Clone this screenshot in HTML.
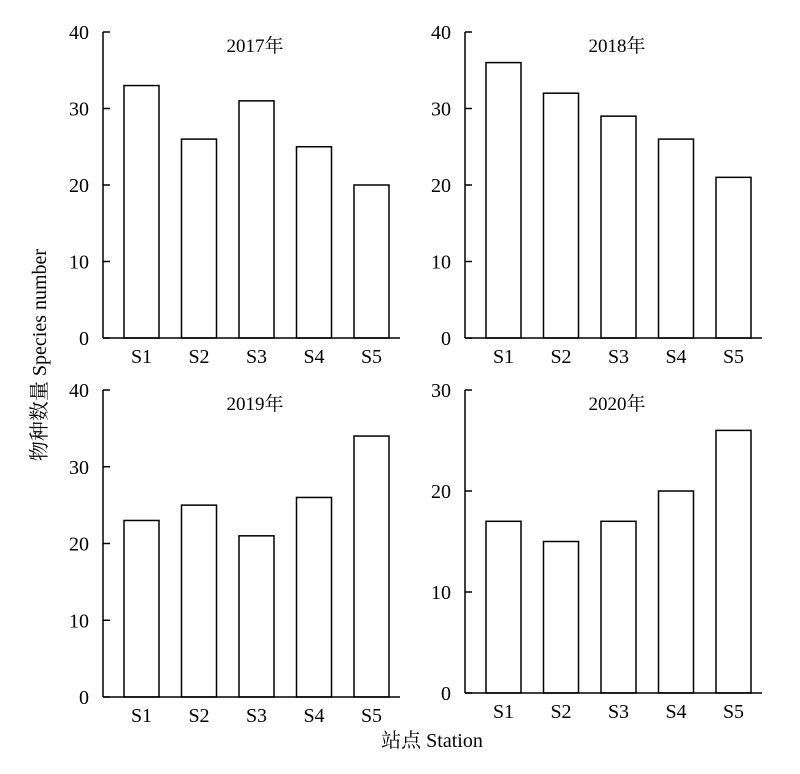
<!DOCTYPE html>
<html><head><meta charset="utf-8"><style>
html,body{margin:0;padding:0;background:#fff}
svg text{font-family:"Liberation Serif","Noto Serif CJK SC",serif;fill:#000}
</style></head><body>
<svg id="c" width="800" height="769" viewBox="0 0 800 769" xmlns="http://www.w3.org/2000/svg">
<text x="46" y="355" font-size="20" text-anchor="middle" transform="rotate(-90 46 355)">物种数量 Species number</text>
<text x="432" y="747" font-size="20" text-anchor="middle">站点 Station</text>
</svg>
<script>
const categories = ["S1","S2","S3","S4","S5"];
const years = ["2017年","2018年","2019年","2020年"];
const values2017 = [33,26,31,25,20];
const values2018 = [36,32,29,26,21];
const values2019 = [23,25,21,26,34];
const values2020 = [17,15,17,20,26];
const ticksA = [0,10,20,30,40];
const ticksB = [0,10,20,30];
const series = [values2017, values2018, values2019, values2020];
const tickSets = [ticksA, ticksA, ticksA, ticksB];

const svg = document.getElementById('c');
const NS = 'http://www.w3.org/2000/svg';
const panels = [
  {ax:103, y0:338, yTop:32},
  {ax:465, y0:338, yTop:32},
  {ax:103, y0:697, yTop:390},
  {ax:465, y0:693, yTop:390}
];
function mk(t, a){const e=document.createElementNS(NS,t);for(const k in a)e.setAttribute(k,a[k]);svg.appendChild(e);return e;}
panels.forEach((p,pi)=>{
  const ticks = tickSets[pi];
  const maxV = ticks[ticks.length-1];
  const yS = v => p.y0 - (v/maxV)*(p.y0-p.yTop);
  const xS = i => p.ax + 38.5 + i*57.5;
  const vals = series[pi];
  vals.forEach((v,i)=>{
    const r = mk('rect',{x:xS(i)-17.5,y:yS(v),width:35,height:p.y0-yS(v),fill:'#fff',stroke:'#000','stroke-width':1.5});
    
    
    const t = mk('text',{x:xS(i),y:p.y0+25,'font-size':20,'text-anchor':'middle'});
    t.textContent = categories[i];
    
    
  });
  const ya = mk('line',{x1:p.ax,y1:p.yTop,x2:p.ax,y2:p.y0,stroke:'#000','stroke-width':1.5});
  
  
  const xa = mk('line',{x1:p.ax,y1:p.y0,x2:p.ax+297,y2:p.y0,stroke:'#000','stroke-width':1.5});
  
  
  ticks.forEach(v=>{
    const l = mk('line',{x1:p.ax,y1:yS(v),x2:p.ax+7,y2:yS(v),stroke:'#000','stroke-width':1.5});
    
    
    const t = mk('text',{x:p.ax-14,y:yS(v)+7,'font-size':20,'text-anchor':'end'});
    t.textContent = v;
    
    
  });
  const ti = mk('text',{x:p.ax+152,y:p.yTop+20,'font-size':19,'text-anchor':'middle'});
  ti.textContent = years[pi];
  
  
});
</script>
</body></html>
